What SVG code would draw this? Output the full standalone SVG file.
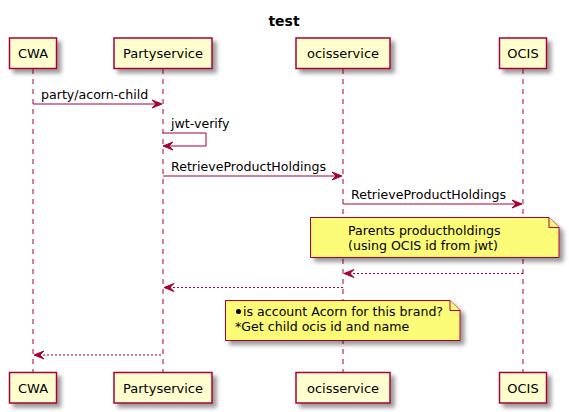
<svg xmlns="http://www.w3.org/2000/svg" width="569" height="412" viewBox="0 0 569 412">
<defs>
<filter id="sh" x="-20%" y="-20%" width="150%" height="150%">
<feGaussianBlur in="SourceAlpha" stdDeviation="2" result="b"/>
<feColorMatrix in="b" type="matrix" values="0 0 0 0 0  0 0 0 0 0  0 0 0 0 0  0 0 0 0.4 0" result="c"/>
<feOffset in="c" dx="4" dy="4" result="o"/>
<feMerge><feMergeNode in="o"/><feMergeNode in="SourceGraphic"/></feMerge>
</filter>
</defs>
<style>
text{font-family:"DejaVu Sans","Liberation Sans",sans-serif;fill:#000}
.title{font-size:14px;font-weight:bold}
.p{fill:#FEFECE;stroke:#A80036;stroke-width:1.5}
.pt{font-size:13px}
.life{stroke:#A80036;stroke-width:1;stroke-dasharray:5,5;fill:none}
.msg{stroke:#A80036;stroke-width:1;fill:none}
.ret{stroke:#A80036;stroke-width:1;stroke-dasharray:2,2;fill:none}
.ah{fill:#A80036;stroke:#A80036;stroke-width:1}
.mt{font-size:12.6px}
.note{fill:#FBFB77;stroke:#A80036;stroke-width:1}
</style>
<rect width="569" height="412" fill="#FFFFFF"/>
<text class="title" x="284" y="26" text-anchor="middle">test</text>

<g id="lifelines">
<line class="life" x1="33" y1="69" x2="33" y2="372"/>
<line class="life" x1="163" y1="69" x2="163" y2="372"/>
<line class="life" x1="343" y1="69" x2="343" y2="372"/>
<line class="life" x1="523" y1="69" x2="523" y2="372"/>
</g>

<g id="CWA">
<rect class="p" x="9.5" y="38" width="47" height="30.5" filter="url(#sh)"/>
<text class="pt" x="33" y="58" text-anchor="middle">CWA</text>
<rect class="p" x="9.5" y="372.5" width="47" height="30.5" filter="url(#sh)"/>
<text class="pt" x="33" y="392.5" text-anchor="middle">CWA</text>
</g>
<g id="Partyservice">
<rect class="p" x="114" y="38" width="98" height="30.5" filter="url(#sh)"/>
<text class="pt" x="163" y="58" text-anchor="middle">Partyservice</text>
<rect class="p" x="114" y="372.5" width="98" height="30.5" filter="url(#sh)"/>
<text class="pt" x="163" y="392.5" text-anchor="middle">Partyservice</text>
</g>
<g id="ocisservice">
<rect class="p" x="296" y="38" width="94" height="30.5" filter="url(#sh)"/>
<text class="pt" x="343" y="58" text-anchor="middle">ocisservice</text>
<rect class="p" x="296" y="372.5" width="94" height="30.5" filter="url(#sh)"/>
<text class="pt" x="343" y="392.5" text-anchor="middle">ocisservice</text>
</g>
<g id="OCIS">
<rect class="p" x="499.5" y="38" width="47" height="30.5" filter="url(#sh)"/>
<text class="pt" x="523" y="58" text-anchor="middle">OCIS</text>
<rect class="p" x="499.5" y="372.5" width="47" height="30.5" filter="url(#sh)"/>
<text class="pt" x="523" y="392.5" text-anchor="middle">OCIS</text>
</g>

<g id="connectors">
<line class="msg" x1="33" y1="104" x2="161" y2="104"/>
<polygon class="ah" points="152,100 162,104 152,108 156,104"/>
<text class="mt" x="41" y="98.5">party/acorn-child</text>

<polyline class="msg" points="163,133 206,133 206,146 164,146"/>
<polygon class="ah" points="173,142 163,146 173,150 169,146"/>
<text class="mt" x="171" y="128">jwt-verify</text>

<line class="msg" x1="163" y1="176" x2="341" y2="176"/>
<polygon class="ah" points="332,172 342,176 332,180 336,176"/>
<text class="mt" x="171" y="170.5">RetrieveProductHoldings</text>

<line class="msg" x1="343" y1="204" x2="521" y2="204"/>
<polygon class="ah" points="512,200 522,204 512,208 516,204"/>
<text class="mt" x="351" y="198.5">RetrieveProductHoldings</text>

<line class="ret" x1="345" y1="273.5" x2="523" y2="273.5"/>
<polygon class="ah" points="354,269.5 344,273.5 354,277.5 350,273.5"/>

<line class="ret" x1="165" y1="287.5" x2="343" y2="287.5"/>
<polygon class="ah" points="174,283.5 164,287.5 174,291.5 170,287.5"/>

<line class="ret" x1="35" y1="355" x2="163" y2="355"/>
<polygon class="ah" points="44,351 34,355 44,359 40,355"/>
</g>

<g id="note1">
<path class="note" d="M310.5,217.5 L549,217.5 L559,227.5 L559,257.5 L310.5,257.5 Z" filter="url(#sh)"/>
<path class="note" d="M549,217.5 L549,227.5 L559,227.5"/>
<text class="mt" x="348" y="234.5">Parents productholdings</text>
<text class="mt" x="348" y="249.5">(using OCIS id from jwt)</text>
</g>

<g id="note2">
<path class="note" d="M225.5,300.5 L450,300.5 L460,310.5 L460,340.5 L225.5,340.5 Z" filter="url(#sh)"/>
<path class="note" d="M450,300.5 L450,310.5 L460,310.5"/>
<circle cx="238.5" cy="311.5" r="2.5" fill="#000"/>
<text class="mt" x="243" y="316">is account Acorn for this brand?</text>
<text class="mt" x="235" y="331">*Get child ocis id and name</text>
</g>
</svg>
